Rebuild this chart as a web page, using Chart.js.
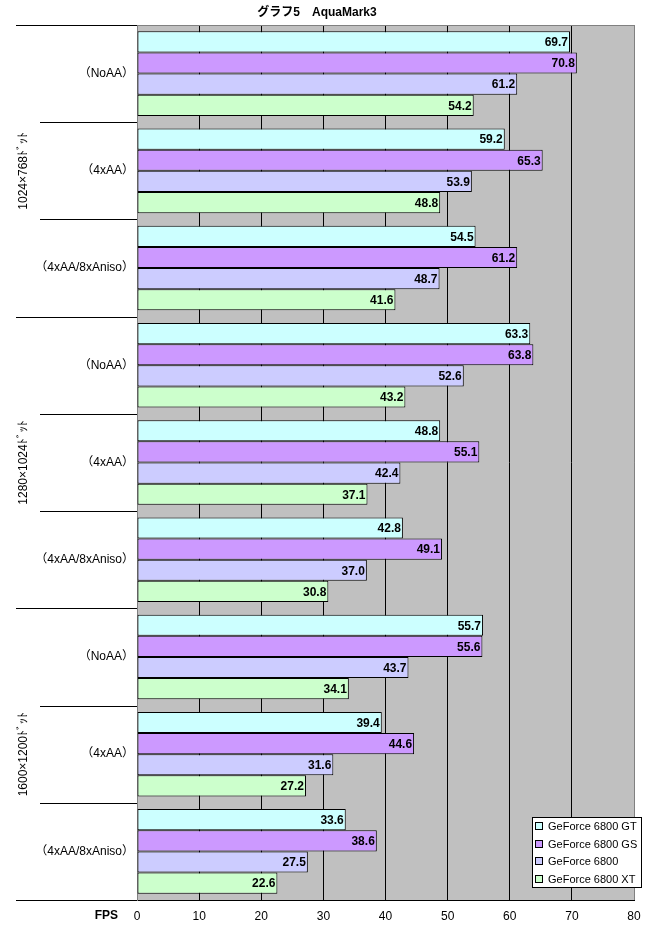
<!DOCTYPE html>
<html>
<head>
<meta charset="utf-8">
<script src="https://cdn.jsdelivr.net/npm/chart.js@4/dist/chart.umd.min.js"></script>
<style>
  html, body { margin: 0; padding: 0; background: #fff; }
  canvas { display: block; }
</style>
</head>
<body>
<canvas id="chart" width="647" height="932"></canvas>
<script>
const titleText = "グラフ5　AquaMark3";
const subLabels = ["（NoAA）", "（4xAA）", "（4xAA/8xAniso）"];
const groupLabels = ["1024×768ﾄﾞｯﾄ", "1280×1024ﾄﾞｯﾄ", "1600×1200ﾄﾞｯﾄ"];
const categories = groupLabels.flatMap(() => subLabels);

const seriesNames = ["GeForce 6800 GT", "GeForce 6800 GS", "GeForce 6800", "GeForce 6800 XT"];
const seriesColors = ["#CCFFFF", "#CC99FF", "#CCCCFF", "#CCFFCC"];

const gtValues = [69.7, 59.2, 54.5, 63.3, 48.8, 42.8, 55.7, 39.4, 33.6];
const gsValues = [70.8, 65.3, 61.2, 63.8, 55.1, 49.1, 55.6, 44.6, 38.6];
const baseValues = [61.2, 53.9, 48.7, 52.6, 42.4, 37.0, 43.7, 31.6, 27.5];
const xtValues = [54.2, 48.8, 41.6, 43.2, 37.1, 30.8, 34.1, 27.2, 22.6];

const xMin = 0;
const xMax = 80;
const xStep = 10;
const axisTitle = "FPS";

const FONT = "'Liberation Sans', 'Noto Sans CJK JP', sans-serif";

const allSeries = [gtValues, gsValues, baseValues, xtValues];

const datasets = allSeries.map((vals, i) => ({
  label: seriesNames[i],
  data: vals,
  backgroundColor: seriesColors[i],
  borderColor: "#000",
  borderWidth: 1,
  borderSkipped: false,
  barPercentage: 1,
  categoryPercentage: 0.87
}));

const decorPlugin = {
  id: "decor",
  beforeDraw(chart) {
    const { ctx, chartArea } = chart;
    ctx.save();
    ctx.fillStyle = "#C0C0C0";
    ctx.fillRect(chartArea.left, chartArea.top, chartArea.right - chartArea.left, chartArea.bottom - chartArea.top);
    ctx.restore();
  },
  afterDatasetsDraw(chart) {
    const { ctx } = chart;
    ctx.save();
    ctx.font = "bold 12px " + FONT;
    ctx.fillStyle = "#000";
    ctx.textAlign = "right";
    ctx.textBaseline = "middle";
    chart.data.datasets.forEach((ds, di) => {
      const meta = chart.getDatasetMeta(di);
      meta.data.forEach((bar, i) => {
        ctx.fillText(ds.data[i].toFixed(1), bar.x - 2, bar.y + 1);
      });
    });
    ctx.restore();
  },
  afterDraw(chart) {
    const { ctx, chartArea, scales } = chart;
    const y = scales.y;
    const n = categories.length;
    const step = y.getPixelForTick(1) - y.getPixelForTick(0);
    ctx.save();

    // plot frame top/right
    ctx.strokeStyle = "#808080";
    ctx.lineWidth = 1;
    ctx.beginPath();
    ctx.moveTo(chartArea.left, chartArea.top + 0.5);
    ctx.lineTo(chartArea.right + 0.5, chartArea.top + 0.5);
    ctx.lineTo(chartArea.right + 0.5, chartArea.bottom);
    ctx.stroke();

    // category separators (two levels)
    ctx.strokeStyle = "#000";
    for (let i = 0; i <= n; i++) {
      const py = Math.round(y.getPixelForTick(0) - step / 2 + i * step) + 0.5;
      const x0 = i % 3 === 0 ? 16 : 40;
      ctx.beginPath();
      ctx.moveTo(x0, py);
      ctx.lineTo(chartArea.left, py);
      ctx.stroke();
    }

    // group labels, rotated
    ctx.fillStyle = "#000";
    ctx.font = "12px " + FONT;
    ctx.textAlign = "center";
    ctx.textBaseline = "middle";
    groupLabels.forEach((g, gi) => {
      const cy = y.getPixelForTick(gi * 3 + 1);
      ctx.save();
      ctx.translate(24, cy);
      ctx.rotate(-Math.PI / 2);
      ctx.fillText(g, 0, 0);
      ctx.restore();
    });

    // axis title
    ctx.font = "bold 12px " + FONT;
    ctx.textAlign = "right";
    ctx.fillText(axisTitle, 118, chartArea.bottom + 16);

    // legend
    const lx = 532, ly = 817, lw = 109, lh = 70;
    ctx.fillStyle = "#fff";
    ctx.fillRect(lx, ly, lw, lh);
    ctx.strokeStyle = "#000";
    ctx.strokeRect(lx + 0.5, ly + 0.5, lw, lh);
    ctx.font = "11px " + FONT;
    ctx.textAlign = "left";
    seriesNames.forEach((name, i) => {
      const cy = ly + 9 + i * 17.5;
      ctx.fillStyle = seriesColors[i];
      ctx.fillRect(535, Math.round(cy) - 3, 7, 7);
      ctx.strokeStyle = "#000";
      ctx.strokeRect(535.5, Math.round(cy) - 3.5, 7, 7);
      ctx.fillStyle = "#000";
      ctx.fillText(name, 548, cy + 1);
    });
    ctx.restore();
  }
};

new Chart(document.getElementById("chart"), {
  type: "bar",
  data: { labels: categories, datasets },
  options: {
    indexAxis: "y",
    responsive: false,
    animation: false,
    layout: { padding: { top: 0, right: 13, bottom: 0, left: 0 } },
    plugins: {
      legend: { display: false },
      tooltip: { enabled: false },
      title: {
        display: true,
        text: titleText,
        color: "#000",
        font: { family: FONT, size: 12, weight: "bold", lineHeight: 1.2 },
        padding: { top: 5, bottom: 5.6 }
      }
    },
    scales: {
      x: {
        min: xMin,
        max: xMax,
        afterFit: (s) => { s.height = 32; s.paddingLeft = 0; s.paddingRight = 0; },
        ticks: { stepSize: xStep, color: "#000", padding: 9, font: { family: FONT, size: 12 } },
        grid: {
          drawTicks: false,
          color: (c) => (c.tick && c.tick.value === xMax ? "#808080" : "#000")
        },
        border: { display: true, color: "#000" }
      },
      y: {
        afterFit: (s) => { s.width = 137; },
        ticks: { autoSkip: false, color: "#000", padding: 3, font: { family: FONT, size: 12 } },
        grid: { display: false, drawTicks: false },
        border: { display: true, color: "#808080" }
      }
    }
  },
  plugins: [decorPlugin]
});
</script>
</body>
</html>
